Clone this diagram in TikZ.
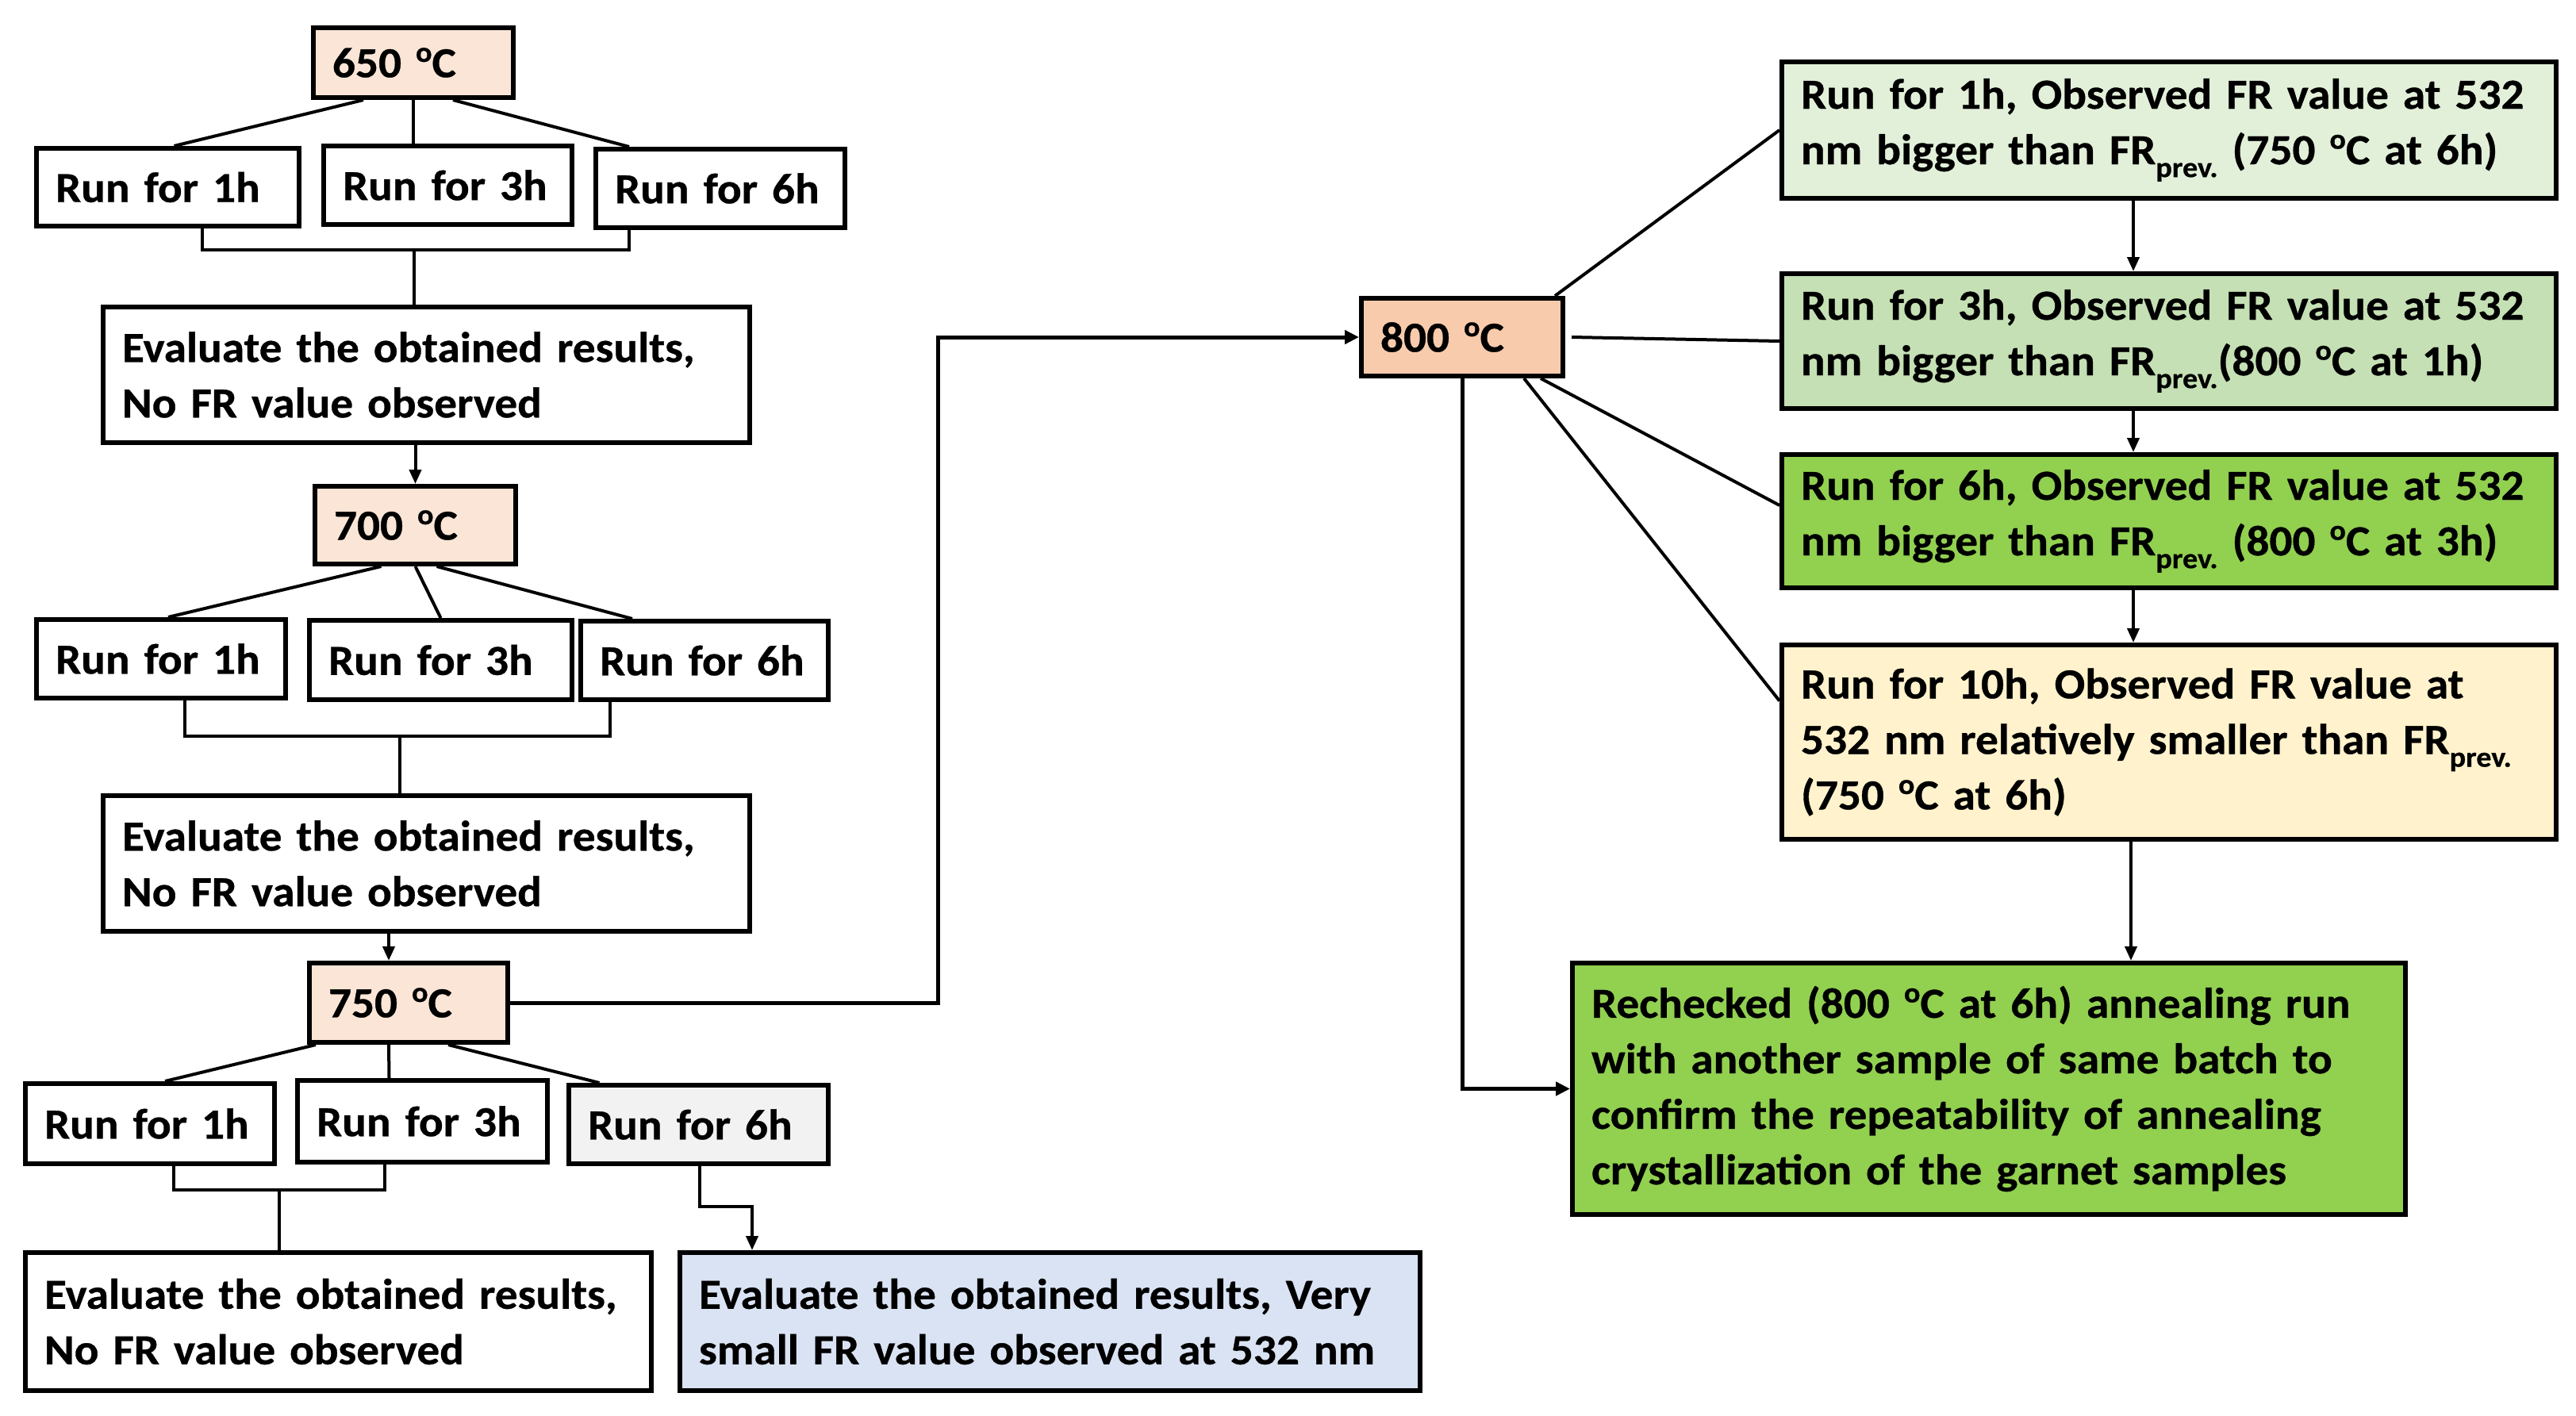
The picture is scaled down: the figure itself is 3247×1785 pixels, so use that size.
\documentclass[tikz,border=0pt]{standalone}
\usepackage{fontspec}
\setmainfont{Carlito}[FakeStretch=1.06,BoldFeatures={FakeBold=0.6}]
\usetikzlibrary{arrows.meta,calc}
\definecolor{peach}{HTML}{FBE5D6}
\definecolor{peachdark}{HTML}{F8CBAD}
\definecolor{grn1}{HTML}{E2F0D9}
\definecolor{grn2}{HTML}{C5E0B4}
\definecolor{grn3}{HTML}{92D050}
\definecolor{yel}{HTML}{FFF2CC}
\definecolor{blu}{HTML}{DAE3F3}
\definecolor{gry}{HTML}{F2F2F2}
\newcommand\dg{\raisebox{0.36em}{\fontsize{36}{36}\selectfont o}}
\newcommand\FRp{FR\raisebox{-0.3em}{\fontsize{36}{36}\selectfont prev.}}
\tikzset{
  bx/.style={draw=black, line width=6pt, rectangle, inner xsep=24pt, inner ysep=0pt,
    align=left, font=\fontsize{54}{70}\selectfont\bfseries, fill=white},
  ln/.style={draw=black, line width=4pt},
  arr/.style={draw=black, line width=4pt, -{Triangle[length=18pt,width=15pt]}},
  thk/.style={draw=black, line width=5pt, -{Triangle[length=18pt,width=17pt]}}
}
\begin{document}
\begin{tikzpicture}[x=1pt,y=-1pt]
\useasboundingbox (0,0) rectangle (3247,1785);
% ---------- 650
\node[bx, fill=peach, minimum width=252pt, minimum height=88pt, text width=204pt] (t650) at (521,79) {650 \dg C};
\node[bx, minimum width=331pt, minimum height=98pt, text width=283pt] (a1) at (211.5,236) {Run for 1h};
\node[bx, minimum width=313pt, minimum height=99pt, text width=265pt] (a3) at (564.5,233.5) {Run for 3h};
\node[bx, minimum width=314pt, minimum height=99pt, text width=266pt] (a6) at (908,237.5) {Run for 6h};
\node[bx, minimum width=815pt, minimum height=171pt, text width=767pt] (ea) at (537.5,472.5) {Evaluate the obtained results,\\No FR value observed};
% ---------- 700
\node[bx, fill=peach, minimum width=253pt, minimum height=98pt, text width=205pt] (t700) at (523.5,662) {700 \dg C};
\node[bx, minimum width=314pt, minimum height=99pt, text width=266pt] (b1) at (203,830.5) {Run for 1h};
\node[bx, minimum width=331pt, minimum height=100pt, text width=283pt] (b3) at (555.5,832) {Run for 3h};
\node[bx, minimum width=312pt, minimum height=99pt, text width=264pt] (b6) at (888,832.5) {Run for 6h};
\node[bx, minimum width=815pt, minimum height=171pt, text width=767pt] (eb) at (537.5,1088.5) {Evaluate the obtained results,\\No FR value observed};
% ---------- 750
\node[bx, fill=peach, minimum width=250pt, minimum height=100pt, text width=202pt] (t750) at (515,1264) {750 \dg C};
\node[bx, minimum width=314pt, minimum height=101pt, text width=266pt] (c1) at (189,1416.5) {Run for 1h};
\node[bx, minimum width=315pt, minimum height=103pt, text width=267pt] (c3) at (532.5,1413.5) {Run for 3h};
\node[bx, fill=gry, minimum width=327pt, minimum height=99pt, text width=279pt] (c6) at (880.5,1417.5) {Run for 6h};
\node[bx, minimum width=789pt, minimum height=174pt, text width=741pt] (ec) at (426.5,1666) {Evaluate the obtained results,\\No FR value observed};
\node[bx, fill=blu, minimum width=933pt, minimum height=174pt, text width=885pt] (ed) at (1323.5,1666) {Evaluate the obtained results, Very\\small FR value observed at 532 nm};
% ---------- 800
\node[bx, fill=peachdark, minimum width=254pt, minimum height=98pt, text width=206pt] (t800) at (1843,425) {800 \dg C};
\node[bx, fill=grn1, minimum width=976pt, minimum height=172pt, text width=928pt] (fr1) at (2734,164) {Run for 1h, Observed FR value at 532\\nm bigger than \FRp{} (750 \dg C at 6h)};
\node[bx, fill=grn2, minimum width=976pt, minimum height=170pt, text width=928pt] (fr3) at (2734,430) {Run for 3h, Observed FR value at 532\\nm bigger than \FRp(800 \dg C at 1h)};
\node[bx, fill=grn3, minimum width=976pt, minimum height=168pt, text width=928pt] (fr6) at (2734,657) {Run for 6h, Observed FR value at 532\\nm bigger than \FRp{} (800 \dg C at 3h)};
\node[bx, fill=yel, minimum width=976pt, minimum height=245pt, text width=928pt] (fr10) at (2734,935.5) {Run for 10h, Observed FR value at\\532 nm relatively smaller than \FRp\\(750 \dg C at 6h)};
\node[bx, fill=grn3, minimum width=1050pt, minimum height=317pt, text width=1002pt] (rc) at (2507,1372.5) {Rechecked (800 \dg C at 6h) annealing run\\with another sample of same batch to\\confirm the repeatability of annealing\\crystallization of the garnet samples};
% ---------- connectors 650
\draw[ln] ([xshift=-63pt]t650.south) -- ([xshift=8pt]a1.north);
\draw[ln] (t650.south) -- (t650.south |- a3.north);
\draw[ln] ([xshift=50pt]t650.south) -- ([xshift=-115pt]a6.north);
\coordinate (ja) at (522,315);
\draw[ln] ([xshift=43pt]a1.south) |- (ja) -| ([xshift=-115pt]a6.south);
\draw[ln] (ja) -- (ja |- ea.north);
\draw[arr] (t700.north |- ea.south) -- (t700.north);
% ---------- connectors 700
\draw[ln] ([xshift=-43pt]t700.south) -- ([xshift=9pt]b1.north);
\draw[ln] (t700.south) -- (b3.north);
\draw[ln] ([xshift=27pt]t700.south) -- ([xshift=-91pt]b6.north);
\coordinate (jb) at (504,928);
\draw[ln] ([xshift=30pt]b1.south) |- (jb) -| ([xshift=-119pt]b6.south);
\draw[ln] (jb) -- (jb |- eb.north);
\draw[arr] ([xshift=-25pt]t750.north |- eb.south) -- ([xshift=-25pt]t750.north);
% ---------- connectors 750
\draw[ln] ([xshift=-117pt]t750.south) -- ([xshift=19pt]c1.north);
\draw[ln] ([xshift=-25pt]t750.south) -- ([xshift=-42pt]c3.north);
\draw[ln] ([xshift=50pt]t750.south) -- ([xshift=-125pt]c6.north);
\coordinate (jc) at (352,1500);
\draw[ln] ([xshift=30pt]c1.south) |- (jc) -| ([xshift=-48pt]c3.south);
\draw[ln] (jc) -- (jc |- ec.north);
\coordinate (jd) at (948,1521);
\draw[arr] ([xshift=1.5pt]c6.south) |- (jd) -- (jd |- ed.north);
\coordinate (k) at (1182,0);
\draw[thk] (t750.east) -- (k |- t750.east) -- (k |- t800.west) -- (t800.west);
% ---------- connectors 800
\draw[ln] ([xshift=-13pt]t800.north east) -- (fr1.west);
\draw[ln] ([xshift=8pt]t800.east) -- (fr3.west);
\draw[ln] ([xshift=99pt]t800.south) -- ([yshift=20pt]fr6.west);
\draw[ln] ([xshift=78pt]t800.south) -- ([yshift=52pt]fr10.west);
\draw[arr] ([xshift=-45pt]fr1.south) -- ([xshift=-45pt]fr3.north);
\draw[arr] ([xshift=-45pt]fr3.south) -- ([xshift=-45pt]fr6.north);
\draw[arr] ([xshift=-45pt]fr6.south) -- ([xshift=-45pt]fr10.north);
\draw[arr] ([xshift=179pt]rc.north |- fr10.south) -- ([xshift=179pt]rc.north);
\draw[thk] (t800.south) |- (rc.west);
\end{tikzpicture}
\end{document}
